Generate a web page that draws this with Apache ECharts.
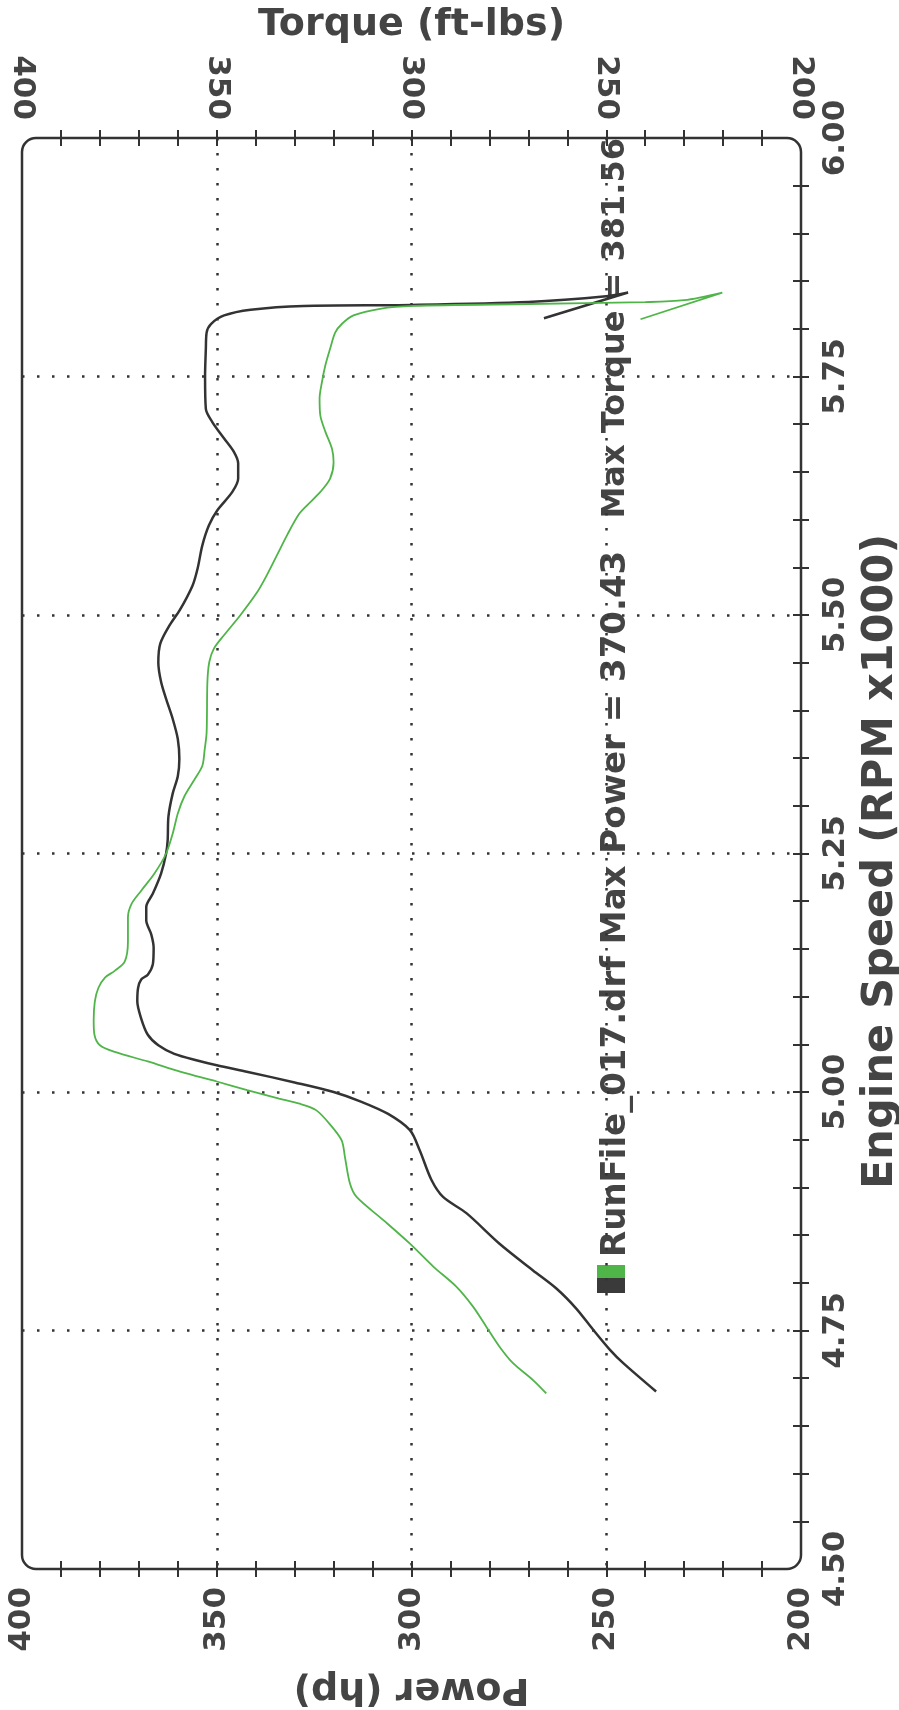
<!DOCTYPE html>
<html>
<head>
<meta charset="utf-8">
<title>RunFile_017</title>
<script src="https://cdn.jsdelivr.net/npm/echarts@6.0.0/dist/echarts.min.js"></script>
<style>
    html, body { margin: 0; padding: 0; background: #fff; }
    #main { width: 899px; height: 1710px; }
</style>
</head>
<body>
<div id="main"></div>
<script>
// power curve (black), rpm x1000 / hp
var powerRpm = [4.686, 4.716, 4.730, 4.751, 4.773, 4.794, 4.813, 4.841, 4.873, 4.890, 4.908, 4.939, 4.960, 4.977, 4.990,
    5.000, 5.010, 5.021, 5.028, 5.033, 5.040, 5.049, 5.060, 5.077, 5.095, 5.109, 5.118, 5.123, 5.134, 5.151, 5.165, 5.180,
    5.194, 5.208, 5.229, 5.250, 5.264, 5.289, 5.313, 5.331, 5.349, 5.370, 5.391, 5.412, 5.430, 5.450, 5.470, 5.490, 5.505,
    5.531, 5.549, 5.573, 5.594, 5.610, 5.629, 5.643, 5.659, 5.671, 5.685, 5.702, 5.716, 5.750, 5.779, 5.796, 5.805, 5.814,
    5.820, 5.824, 5.825, 5.828, 5.834, 5.838, 5.811];
var powerHp = [237.2, 245.7, 249.1, 253.4, 257.7, 262.8, 268.8, 277.4, 285.9, 291.9, 294.9, 297.9, 300.4, 306.0, 313.0,
    320.0, 330.0, 342.0, 350.0, 355.0, 360.9, 365.0, 367.7, 369.4, 370.4, 370.2, 369.4, 367.7, 366.4, 366.2, 366.8, 368.1,
    368.1, 366.4, 364.3, 363.0, 362.6, 362.4, 361.3, 360.0, 359.6, 360.0, 361.3, 363.0, 364.3, 365.0, 364.5, 362.0, 359.5,
    356.2, 354.9, 353.7, 352.0, 349.8, 346.0, 344.5, 344.5, 345.6, 348.1, 351.1, 352.8, 353.0, 352.8, 352.6, 351.5, 348.1,
    341.3, 327.7, 300.0, 270.0, 250.0, 244.4, 266.0];

// torque curve (green), rpm x1000 / ft-lbs
var torqueRpm = [4.684, 4.698, 4.716, 4.733, 4.754, 4.775, 4.796, 4.817, 4.841, 4.866, 4.890, 4.904, 4.932, 4.949, 4.964,
    4.981, 4.988, 4.993, 5.002, 5.011, 5.021, 5.032, 5.042, 5.049, 5.060, 5.075, 5.095, 5.109, 5.120, 5.127, 5.137, 5.158,
    5.183, 5.197, 5.211, 5.229, 5.250, 5.271, 5.292, 5.310, 5.327, 5.342, 5.359, 5.377, 5.430, 5.451, 5.465, 5.479, 5.500,
    5.524, 5.542, 5.563, 5.584, 5.605, 5.615, 5.629, 5.643, 5.660, 5.674, 5.692, 5.709, 5.727, 5.744, 5.762, 5.779, 5.796,
    5.805, 5.814, 5.821, 5.824, 5.826, 5.828, 5.830, 5.838, 5.810];
var torqueFt = [265.4, 268.8, 274.0, 277.4, 280.8, 284.2, 288.5, 294.4, 300.4, 307.3, 314.1, 315.8, 317.1, 317.9, 320.5,
    324.5, 329.0, 334.0, 342.2, 350.0, 359.2, 367.7, 376.2, 380.0, 381.4, 381.6, 381.3, 380.4, 378.7, 376.2, 373.6, 372.8,
    372.8, 371.9, 369.4, 366.0, 363.0, 361.3, 360.0, 358.3, 355.8, 353.7, 353.1, 352.6, 352.4, 351.9, 350.7, 348.1, 343.9,
    339.6, 337.1, 334.5, 331.9, 329.0, 326.8, 323.4, 320.9, 320.0, 320.4, 322.1, 323.4, 323.6, 323.0, 322.1, 320.9, 319.6,
    317.9, 314.9, 308.1, 299.6, 270.0, 240.0, 230.0, 220.2, 241.2];

// tick labels
var valueLabels = [200, 250, 300, 350, 400];
var rpmLabels = [4.50, 4.75, 5.00, 5.25, 5.50, 5.75, 6.00];
var legendText = 'RunFile_017.drf Max Power = 370.43';
var legendText2 = 'Max Torque = 381.56';

var font = 'DejaVu Sans';
var ink = '#444';

// small crossing ticks, every 10 units / every 50 rpm, none on the corners
var valueTicks = [];
for (var v = 210; v < 400; v += 10) valueTicks.push(v);
var rpmTicks = [];
for (var r = 1; r < 30; r++) rpmTicks.push(+(4.5 + r * 0.05).toFixed(2));

function toPairs(rpm, vals) {
    var out = [];
    for (var i = 0; i < rpm.length; i++) out.push([vals[i], rpm[i]]);
    return out;
}

var dotted = { color: '#333', width: 2.5, type: [2.5, 12.5] };

function valueAxis(pos, name, nameRotate, nameGap) {
    return {
        type: 'value',
        position: pos,
        min: 200,
        max: 400,
        interval: 50,
        inverse: true,
        offset: 8,
        name: name,
        nameLocation: 'middle',
        nameRotate: nameRotate,
        nameGap: nameGap,
        nameTextStyle: { fontFamily: font, fontWeight: 'bold', fontSize: 38, color: ink },
        axisLine: { show: false },
        axisTick: { show: true, inside: true, length: 16, customValues: valueTicks, lineStyle: { color: '#333', width: 2 } },
        axisLabel: {
            rotate: 90, margin: 10, customValues: valueLabels,
            fontFamily: font, fontWeight: 'bold', fontSize: 31, color: ink
        },
        splitLine: { show: false }
    };
}

var myChart = echarts.init(document.getElementById('main'));

var option = {
    backgroundColor: '#fff',
    animation: false,
    grid: { left: 22, right: 98, top: 138, bottom: 141, outerBoundsMode: 'none' },
    xAxis: [
        valueAxis('bottom', 'Power (hp)', 180, 93),
        valueAxis('top', 'Torque (ft-lbs)', 0, 86),
        {
            // dotted grid only
            type: 'value', position: 'bottom', min: 200, max: 400, interval: 50, inverse: true,
            axisLine: { show: false }, axisTick: { show: false }, axisLabel: { show: false },
            splitLine: { show: true, showMinLine: false, showMaxLine: false, lineStyle: dotted }
        }
    ],
    yAxis: [
        {
            type: 'value',
            position: 'right',
            min: 4.5,
            max: 6,
            interval: 0.25,
            offset: 8,
            name: 'Engine Speed (RPM x1000)',
            nameLocation: 'middle',
            nameRotate: 90,
            nameGap: 44,
            nameTextStyle: { fontFamily: font, fontWeight: 'bold', fontSize: 43, color: ink, padding: [0, 16, 0, 0] },
            axisLine: { show: false },
            axisTick: { show: true, inside: true, length: 16, customValues: rpmTicks, lineStyle: { color: '#333', width: 2 } },
            axisLabel: {
                rotate: 90, margin: 11, customValues: rpmLabels,
                fontFamily: font, fontWeight: 'bold', fontSize: 31, color: ink,
                formatter: function (val) { return val.toFixed(2); }
            },
            splitLine: { show: false }
        },
        {
            type: 'value', position: 'left', min: 4.5, max: 6, interval: 0.25,
            axisLine: { show: false }, axisTick: { show: false }, axisLabel: { show: false },
            splitLine: { show: true, showMinLine: false, showMaxLine: false, lineStyle: dotted }
        }
    ],
    graphic: [
        {
            // rounded plot frame
            type: 'rect',
            shape: { x: 22, y: 138, width: 779, height: 1431, r: 14 },
            style: { fill: 'none', stroke: '#333', lineWidth: 2.5 },
            z: 1
        },
        {
            type: 'group',
            x: 611,
            y: 1293,
            rotation: Math.PI / 2,
            children: [
                { type: 'rect', shape: { x: 0, y: -14, width: 15, height: 28 }, style: { fill: '#3a3a3a' } },
                { type: 'rect', shape: { x: 15, y: -14, width: 13, height: 28 }, style: { fill: '#4fb548' } },
                {
                    type: 'text', x: 36, y: 5,
                    style: { text: legendText, fontFamily: font, fontWeight: 'bold', fontSize: 34, fill: ink, verticalAlign: 'middle' }
                },
                {
                    type: 'text', x: 1155, y: 5,
                    style: { text: legendText2, fontFamily: font, fontWeight: 'bold', fontSize: 32, fill: ink, align: 'right', verticalAlign: 'middle' }
                }
            ]
        }
    ],
    series: [
        {
            name: 'Power',
            type: 'line',
            xAxisIndex: 0,
            yAxisIndex: 0,
            showSymbol: false,
            smooth: 0.3,
            data: toPairs(powerRpm, powerHp),
            lineStyle: { color: '#333', width: 2.5 },
            z: 3
        },
        {
            name: 'Torque',
            type: 'line',
            xAxisIndex: 1,
            yAxisIndex: 0,
            showSymbol: false,
            smooth: 0.3,
            data: toPairs(torqueRpm, torqueFt),
            lineStyle: { color: '#4fb548', width: 1.8 },
            z: 3
        }
    ]
};

myChart.setOption(option);
</script>
</body>
</html>
